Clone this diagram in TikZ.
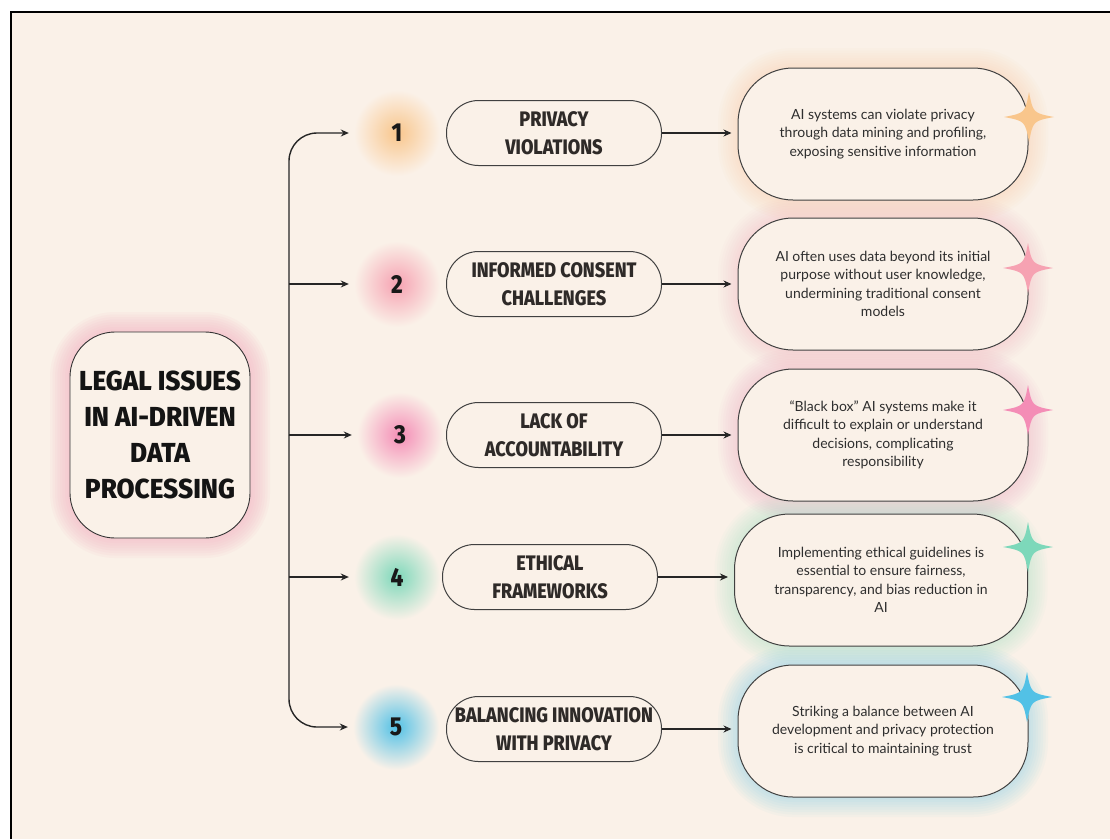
\documentclass[tikz,border=0pt]{standalone}
\usepackage{fontspec}
\setmainfont{Lato}
\IfFontExistsTF{Fira Sans ExtraBold}{%
  \newfontfamily\headfont{Fira Sans ExtraBold}[FakeStretch=0.86]
  \newfontfamily\bighead{Fira Sans ExtraBold}[FakeStretch=0.95]
}{%
  \newfontfamily\headfont{Fira Sans Bold}[FakeStretch=0.86, FakeBold=0.6]
  \newfontfamily\bighead{Fira Sans Bold}[FakeStretch=0.95, FakeBold=0.6]
}
\usetikzlibrary{arrows.meta,calc}

\definecolor{paper}{HTML}{FAF1E8}
\definecolor{ink}{HTML}{2E2A28}
\definecolor{glowtitle}{HTML}{F5B0C2}
\definecolor{glowA}{HTML}{F9C68C}
\definecolor{glowB}{HTML}{F6A2B2}
\definecolor{glowC}{HTML}{F48DB6}
\definecolor{glowD}{HTML}{7DD8BA}
\definecolor{glowE}{HTML}{52C1E6}

% soft halo behind a rounded box: centre, width, height, corner, colour, opacity
\newcommand{\boxglow}[6]{%
  \foreach \k in {1,...,8}{
    \draw[#5, opacity=#6, line width=\k*5pt, rounded corners=#4]
      ($(#1)+(-#2/2,-#3/2)$) rectangle ($(#1)+(#2/2,#3/2)$);
  }}

\tikzset{
  flow/.style={-{Stealth[length=8pt,width=7pt]}, line width=1.4pt, draw=black!85},
  titlebox/.style={draw=black!80, line width=0.9pt, fill=paper, rounded corners=45pt,
    minimum width=180pt, minimum height=206pt, align=center, inner sep=0pt,
    font=\bighead\fontsize{27.5}{36}\selectfont, text=black!92},
  issuebox/.style={draw=black!75, line width=1pt, fill=paper, rounded corners=32pt,
    minimum width=215pt, minimum height=65pt, align=center, inner sep=0pt,
    font=\headfont\fontsize{21}{28}\selectfont, text=ink},
  notebox/.style={draw=black!75, line width=1pt, fill=paper, rounded corners=55pt,
    minimum width=290pt, minimum height=132pt, align=center, inner sep=0pt,
    font=\fontsize{14}{18.5}\selectfont, text=black!82},
  numlabel/.style={circle, minimum size=86pt, inner sep=0pt, outer color=paper,
    font=\headfont\fontsize{26}{26}\selectfont, text=black!90},
  sparkle/.pic={
    \fill (0,25) .. controls (4,4) .. (25,0) .. controls (4,-4) .. (0,-25)
      .. controls (-4,-4) .. (-25,0) .. controls (-4,4) .. cycle;
  }
}

\begin{document}
\begin{tikzpicture}[x=1pt, y=-1pt]

	\useasboundingbox (0,0) rectangle (1110,839);
	\fill[white] (0,0) rectangle (1110,839);
	\fill[paper] (11,12) rectangle (1110,839);
	\draw[line width=2pt] (11,839) -- (11,12) -- (1110,12);

	% halos
	\boxglow{160,435}{180}{206}{45pt}{glowtitle}{0.09}
	\boxglow{883,134}{290}{132}{55pt}{glowA}{0.035}
	\boxglow{883,284}{290}{132}{55pt}{glowB}{0.035}
	\boxglow{883,435}{290}{132}{55pt}{glowC}{0.035}
	\boxglow{881,580}{293}{132}{55pt}{glowD}{0.035}
	\boxglow{883,731}{290}{132}{55pt}{glowE}{0.04}

	% central topic
	\node[titlebox] (topic) at (160,435) {LEGAL ISSUES\\IN AI-DRIVEN\\DATA\\PROCESSING};

	% numbers
	\node[numlabel, shade, inner color=glowA] (n1) at (397,133) {1};
	\node[numlabel, shade, inner color=glowB] (n2) at (397,284) {2};
	\node[numlabel, shade, inner color=glowC] (n3) at (400,435) {3};
	\node[numlabel, shade, inner color=glowD] (n4) at (397,577) {4};
	\node[numlabel, shade, inner color=glowE] (n5) at (396,727) {5};

	% issues
	\node[issuebox] (m1) at (554,133) {PRIVACY\\VIOLATIONS};
	\node[issuebox] (m2) at (554,284) {INFORMED CONSENT\\CHALLENGES};
	\node[issuebox] (m3) at (554,435) {LACK OF\\ACCOUNTABILITY};
	\node[issuebox] (m4) at (550,577) {ETHICAL\\FRAMEWORKS};
	\node[issuebox] (m5) at (554,729) {BALANCING INNOVATION\\WITH PRIVACY};

	% notes
	\node[notebox] (r1) at (883,134) {AI systems can violate privacy\\through data mining and profiling,\\exposing sensitive information};
	\node[notebox] (r2) at (883,284) {AI often uses data beyond its initial\\purpose without user knowledge,\\undermining traditional consent\\models};
	\node[notebox] (r3) at (883,435) {``Black box'' AI systems make it\\difficult to explain or understand\\decisions, complicating\\responsibility};
	\node[notebox, minimum width=293pt] (r4) at (881,580) {Implementing ethical guidelines is\\essential to ensure fairness,\\transparency, and bias reduction in\\AI};
	\node[notebox] (r5) at (883,731) {Striking a balance between AI\\development and privacy protection\\is critical to maintaining trust};

	% sparkles
	\pic[fill=glowA] at (1029,117) {sparkle};
	\pic[fill=glowB] at (1028,268) {sparkle};
	\pic[fill=glowC] at (1028,410) {sparkle};
	\pic[fill=glowD] at (1028,547) {sparkle};
	\pic[fill=glowE] at (1027,697) {sparkle};

	% trunk and branches
	\coordinate (trunk) at (289,435);
	\draw[flow, rounded corners=28pt, shorten >=5pt] (trunk) |- (n1);
	\draw[flow, rounded corners=28pt, shorten >=5pt] (trunk) |- (n5);
	\draw[flow, shorten >=5pt] (trunk |- n2) -- (n2);
	\draw[flow, shorten >=5pt] (trunk) -- (n3);
	\draw[flow, shorten >=5pt] (trunk |- n4) -- (n4);

	\foreach \i in {1,...,5}
		\draw[flow, shorten >=6pt] (m\i.east) -- (m\i.east -| r\i.west);

\end{tikzpicture}
\end{document}
